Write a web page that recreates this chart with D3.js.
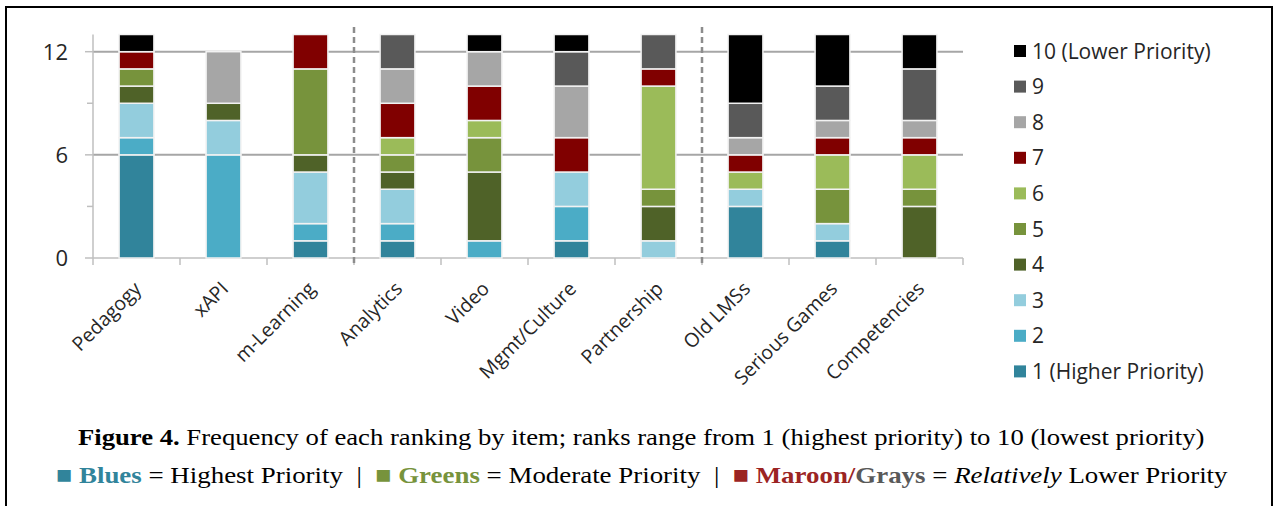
<!DOCTYPE html>
<html>
<head>
<meta charset="utf-8">
<script src="https://cdn.jsdelivr.net/npm/d3@7.9.0/dist/d3.min.js"></script>
<style>
  body { margin: 0; background: #fff; }
  svg { display: block; }
</style>
</head>
<body>
<svg id="chart" width="1276" height="506"></svg>
<script>
// items ranked
const categories = ['Pedagogy', 'xAPI', 'm-Learning', 'Analytics', 'Video', 'Mgmt/Culture',
  'Partnership', 'Old LMSs', 'Serious Games', 'Competencies'];

// frequency of each rank per item
const rank1  = [6, 0, 1, 1, 0, 1, 0, 3, 1, 0];
const rank2  = [1, 6, 1, 1, 1, 2, 0, 0, 0, 0];
const rank3  = [2, 2, 3, 2, 0, 2, 1, 1, 1, 0];
const rank4  = [1, 1, 1, 1, 4, 0, 2, 0, 0, 3];
const rank5  = [1, 0, 5, 1, 2, 0, 1, 0, 2, 1];
const rank6  = [0, 0, 0, 1, 1, 0, 6, 1, 2, 2];
const rank7  = [1, 0, 2, 2, 2, 2, 1, 1, 1, 1];
const rank8  = [0, 3, 0, 2, 2, 3, 0, 1, 1, 1];
const rank9  = [0, 0, 0, 2, 0, 2, 2, 2, 2, 3];
const rank10 = [1, 0, 0, 0, 1, 1, 0, 4, 3, 2];

const rankLabels = ['1 (Higher Priority)', '2', '3', '4', '5', '6', '7', '8', '9', '10 (Lower Priority)'];
const rankColors = ['#31849B', '#4BACC6', '#93CDDD', '#4F6228', '#77933C', '#9BBB59',
  '#800000', '#A6A6A6', '#595959', '#000000'];
const yTicks = [0, 6, 12];
const dividers = [3, 7]; // dashed group separators (band index)

const ranks = [rank1, rank2, rank3, rank4, rank5, rank6, rank7, rank8, rank9, rank10];
const table = categories.map((c, i) => {
  const row = { item: c };
  ranks.forEach((r, k) => { row['r' + k] = r[i]; });
  return row;
});
const keys = ranks.map((_, k) => 'r' + k);

const svg = d3.select('#chart');
const font = '"Open Sans", Lato, sans-serif';

// frame
svg.append('rect')
  .attr('x', 6).attr('y', 7).attr('width', 1266).attr('height', 510)
  .attr('fill', 'none').attr('stroke', '#000').attr('stroke-width', 2);

const x = d3.scaleBand().domain(categories).range([93, 963]).paddingInner(0.6).paddingOuter(0.3);
const y = d3.scaleLinear().domain([0, 13]).range([258, 34.5]);

// gridlines
svg.append('g').selectAll('line').data([6, 12]).join('line')
  .attr('x1', 93).attr('x2', 963)
  .attr('y1', d => y(d)).attr('y2', d => y(d))
  .attr('stroke', '#a6a6a6').attr('stroke-width', 2);

// y axis
const yAxis = svg.append('g').attr('transform', 'translate(93,0)');
yAxis.append('line').attr('y1', y(13)).attr('y2', y(0)).attr('stroke', '#bfbfbf').attr('stroke-width', 1.5);
yAxis.selectAll('.major').data(yTicks).join('line')
  .attr('x1', -8).attr('x2', 0).attr('y1', d => y(d)).attr('y2', d => y(d))
  .attr('stroke', '#bfbfbf').attr('stroke-width', 1.5);
yAxis.selectAll('.minor').data([3, 9]).join('line')
  .attr('x1', -6).attr('x2', 0).attr('y1', d => y(d)).attr('y2', d => y(d))
  .attr('stroke', '#bfbfbf').attr('stroke-width', 1.5);
yAxis.selectAll('text').data(yTicks).join('text')
  .attr('x', -25).attr('y', d => y(d)).attr('dy', '0.36em')
  .attr('text-anchor', 'end')
  .attr('font-family', font).attr('font-size', 22).attr('fill', '#262626')
  .text(d => d);

// x axis
const bounds = d3.range(categories.length + 1).map(i => 93 + i * x.step());
svg.append('line').attr('x1', 93).attr('x2', 963).attr('y1', y(0)).attr('y2', y(0))
  .attr('stroke', '#bfbfbf').attr('stroke-width', 1.5);
svg.append('g').selectAll('line').data(bounds).join('line')
  .attr('x1', d => d).attr('x2', d => d).attr('y1', y(0)).attr('y2', y(0) + 7)
  .attr('stroke', '#bfbfbf').attr('stroke-width', 1.5);

// dashed separators
svg.append('g').selectAll('line').data(dividers).join('line')
  .attr('x1', d => bounds[d]).attr('x2', d => bounds[d])
  .attr('y1', 27).attr('y2', y(0) + 7)
  .attr('stroke', '#8c8c8c').attr('stroke-width', 2.5).attr('stroke-dasharray', '6,4');

// stacked bars
const series = d3.stack().keys(keys)(table);
svg.append('g').selectAll('g').data(series).join('g')
  .attr('fill', (d, i) => rankColors[i])
  .selectAll('rect').data(d => d.filter(p => p[1] > p[0])).join('rect')
  .attr('x', d => x(d.data.item))
  .attr('width', x.bandwidth())
  .attr('y', d => y(d[1]))
  .attr('height', d => y(d[0]) - y(d[1]))
  .attr('stroke', '#f2f2f2').attr('stroke-width', 1.5);

// category labels
svg.append('g').selectAll('text').data(categories).join('text')
  .attr('transform', d => `translate(${x(d) + x.bandwidth() / 2 + 6},${y(0) + 32}) rotate(-45)`)
  .attr('text-anchor', 'end')
  .attr('font-family', font).attr('font-size', 19.5).attr('fill', '#262626')
  .text(d => d);

// legend
const legend = svg.append('g');
const order = d3.range(10).reverse();
legend.selectAll('rect').data(order).join('rect')
  .attr('x', 1014).attr('y', (d, i) => 45 + i * 35.6)
  .attr('width', 12).attr('height', 12)
  .attr('fill', d => rankColors[d]);
legend.selectAll('text').data(order).join('text')
  .attr('x', 1032).attr('y', (d, i) => 51 + i * 35.6).attr('dy', '0.36em')
  .attr('font-family', font).attr('font-size', 21).attr('fill', '#262626')
  .text(d => rankLabels[d]);

// caption
const serif = '"Liberation Serif", "Times New Roman", serif';
function fitLine(el, left, right) {
  const w = el.node().getComputedTextLength();
  const sx = (right - left) / w;
  el.attr('x', 0).attr('text-anchor', 'start')
    .attr('transform', `translate(${left},0) scale(${sx},1)`);
}
const cap1 = svg.append('text').attr('y', 445)
  .attr('font-family', serif).attr('font-size', 24).attr('fill', '#000');
cap1.append('tspan').attr('font-weight', 'bold').text('Figure 4.');
cap1.append('tspan').text(' Frequency of each ranking by item; ranks range from 1 (highest priority) to 10 (lowest priority)');
fitLine(cap1, 78, 1205);

const cap2 = svg.append('text').attr('y', 483)
  .attr('font-family', serif).attr('font-size', 24).attr('fill', '#000')
  .attr('xml:space', 'preserve').style('white-space', 'pre');
cap2.append('tspan').attr('fill', '#31849B').text('■ ');
cap2.append('tspan').attr('fill', '#31849B').attr('font-weight', 'bold').text('Blues');
cap2.append('tspan').text(' = Highest Priority  |  ');
cap2.append('tspan').attr('fill', '#77933C').text('■ ');
cap2.append('tspan').attr('fill', '#77933C').attr('font-weight', 'bold').text('Greens');
cap2.append('tspan').text(' = Moderate Priority  |  ');
cap2.append('tspan').attr('fill', '#9B2423').text('■ ');
cap2.append('tspan').attr('fill', '#9B2423').attr('font-weight', 'bold').text('Maroon/');
cap2.append('tspan').attr('fill', '#595959').attr('font-weight', 'bold').text('Grays');
cap2.append('tspan').text(' = ');
cap2.append('tspan').attr('font-style', 'italic').text('Relatively');
cap2.append('tspan').text(' Lower Priority');
fitLine(cap2, 56, 1228);
</script>
</body>
</html>
